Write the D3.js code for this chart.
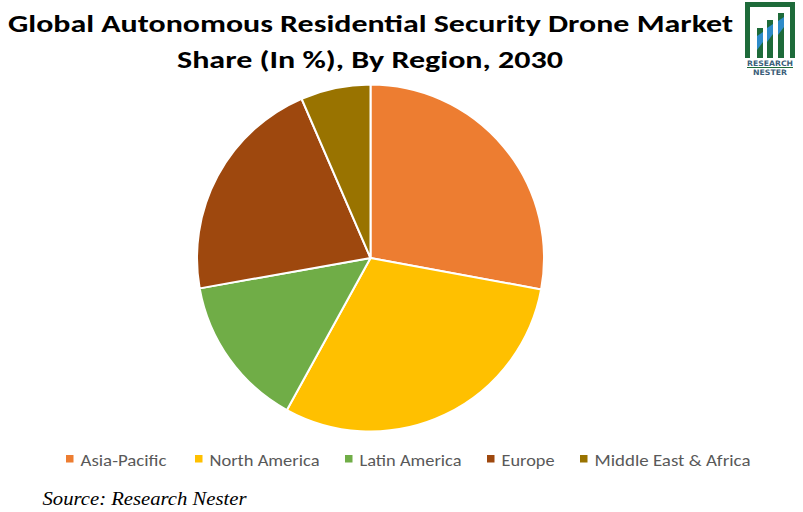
<!DOCTYPE html>
<html><head><meta charset="utf-8">
<script src="https://cdn.jsdelivr.net/npm/d3@7"></script>
<style>body{margin:0;background:#fff}svg{display:block}</style>
</head><body>
<svg id="c" width="803" height="512"></svg>
<script>
const categories = ["Asia-Pacific","North America","Latin America","Europe","Middle East & Africa"];
const shares = [27.9, 30.1, 14.2, 21.3, 6.5];
const colors = ["#ED7D31","#FFC000","#70AD47","#9E480E","#997300"];
const titleLines = ["Global Autonomous Residential Security Drone Market","Share (In %), By Region, 2030"];
const sourceText = "Source: Research Nester";

const svg = d3.select("#c");
svg.append("rect").attr("width",803).attr("height",512).attr("fill","#fff");

// title
const tf = "Calibri, Carlito, Lato, 'Open Sans', sans-serif";
svg.append("text").attr("x",370.5).attr("y",31.5).attr("text-anchor","middle")
  .attr("font-family",tf).attr("font-weight","bold").attr("font-size",25)
  .attr("textLength",725).attr("lengthAdjust","spacingAndGlyphs").attr("fill","#000").text(titleLines[0]);
svg.append("text").attr("x",370).attr("y",68).attr("text-anchor","middle")
  .attr("font-family",tf).attr("font-weight","bold").attr("font-size",25)
  .attr("textLength",386).attr("lengthAdjust","spacingAndGlyphs").attr("fill","#000").text(titleLines[1]);

// pie
const cx = 370.5, cy = 258, r = 173.5;
const pie = d3.pie().sort(null).value(d=>d)(shares);
const arc = d3.arc().innerRadius(0).outerRadius(r);
const g = svg.append("g").attr("transform",`translate(${cx},${cy})`);
g.selectAll("path").data(pie).join("path")
  .attr("d",arc).attr("fill",(d,i)=>colors[i])
  .attr("stroke","#fff").attr("stroke-width",2).attr("stroke-linejoin","round");

// legend
const legX = [66,195,345,487,580];
const legW = [86,110,102,53,156];
const lg = svg.append("g");
categories.forEach((c,i)=>{
  lg.append("rect").attr("x",legX[i]).attr("y",455).attr("width",7.5).attr("height",7.5).attr("fill",colors[i]);
  lg.append("text").attr("x",legX[i]+14.5).attr("y",465.7)
    .attr("font-family","Calibri, Carlito, Lato, 'Open Sans', sans-serif").attr("font-size",17)
    .attr("textLength",legW[i]).attr("lengthAdjust","spacingAndGlyphs")
    .attr("fill","#595959").text(c);
});

// source
svg.append("text").attr("x",42.5).attr("y",505)
  .attr("font-family","Georgia, 'Liberation Serif', serif").attr("font-style","italic").attr("font-size",19)
  .attr("textLength",204).attr("lengthAdjust","spacingAndGlyphs")
  .attr("fill","#000").text(sourceText);

// logo
const logo = svg.append("g");
const dg = "#1E6B3A";
logo.append("rect").attr("x",745).attr("y",2).attr("width",50).attr("height",56).attr("fill",dg);
logo.append("rect").attr("x",750).attr("y",7).attr("width",40).attr("height",51).attr("fill","#fff");
const bars = [[757,28],[767,20],[778,13]];
bars.forEach(([x,t])=>{
  logo.append("rect").attr("x",x).attr("y",t).attr("width",6).attr("height",58-t).attr("fill",dg);
  logo.append("path").attr("d",`M${x},${t+8} L${x+6},${t+4} L${x+6},${t+14} L${x},${t+22} Z`).attr("fill","#2E8BC9");
});
logo.append("text").attr("x",770).attr("y",66).attr("text-anchor","middle")
  .attr("font-family","'DejaVu Sans', sans-serif").attr("font-weight","bold").attr("font-size",7.5)
  .attr("fill","#3b5e7a").attr("textLength",46).attr("lengthAdjust","spacingAndGlyphs").text("RESEARCH");
logo.append("rect").attr("x",747).attr("y",67).attr("width",46).attr("height",1).attr("fill",dg);
logo.append("text").attr("x",770).attr("y",75).attr("text-anchor","middle")
  .attr("font-family","'DejaVu Sans', sans-serif").attr("font-weight","bold").attr("font-size",7.5)
  .attr("fill","#3b5e7a").attr("textLength",34).attr("lengthAdjust","spacingAndGlyphs").text("NESTER");
</script>
</body></html>
